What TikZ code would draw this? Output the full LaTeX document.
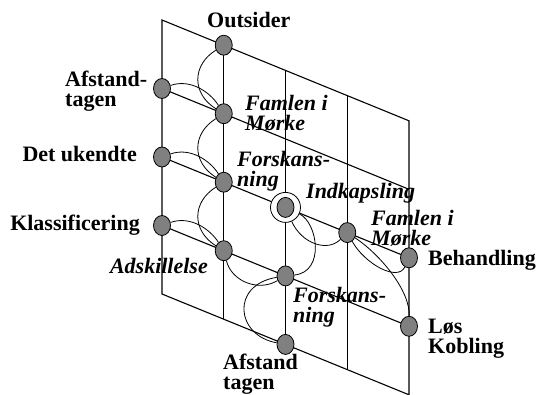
\documentclass[tikz,border=0pt]{standalone}
\usepackage{fontspec}
\setmainfont{Liberation Serif}
\usetikzlibrary{shapes.geometric}
\definecolor{dotgray}{RGB}{128,128,128}

\begin{document}
\begin{tikzpicture}[
  x={(61.75pt,-25.2pt)}, y={(0pt,-68.5pt)},
  gridline/.style={line width=1.1pt},
  link/.style={line width=0.8pt},
  dot/.style={
    ellipse, draw, line width=0.8pt, fill=dotgray,
    minimum width=17pt, minimum height=20pt, inner sep=0pt
  },
  ring/.style={
    circle, draw, line width=0.8pt, fill=white,
    minimum size=30pt, inner sep=0pt
  },
  lbl/.style={font=\fontsize{22}{20}\selectfont\bfseries, inner sep=0pt, align=left},
  ilbl/.style={lbl, font=\fontsize{22}{20}\selectfont\bfseries\itshape}
  ]
  \useasboundingbox (-162pt,20pt) rectangle (378pt,-374pt);
  % the slanted plane
  \draw[gridline] (0,0) -- (4,0) -- (4,4) -- (0,4) -- cycle;
  \foreach \i in {1,2,3} {
    \draw[gridline] (\i,0) -- (\i,4);
    \draw[gridline] (0,\i) -- (4,\i);
  }
  % points
  \node[dot] (outsider) at (1,0) {};
  \node[dot] (afstandA) at (0,1) {};
  \node[dot] (famlenA) at (1,1) {};
  \node[dot] (ukendte) at (0,2) {};
  \node[dot] (forskA) at (1,2) {};
  \node[ring] (indkap) at (2,2) {};
  \node[dot] (indkapDot) at (indkap) {};
  \node[dot] (famlenB) at (3,2) {};
  \node[dot] (behandl) at (4,2) {};
  \node[dot] (klassif) at (0,3) {};
  \node[dot] (adskil) at (1,3) {};
  \node[dot] (forskB) at (2,3) {};
  \node[dot] (loes) at (4,3) {};
  \node[dot] (afstandB) at (2,4) {};
  % paths
  \foreach \a/\b in {outsider/famlenA, famlenA/forskA, forskA/adskil}
    \draw[link] (\a) .. controls +(-32pt,-20pt) and +(-32pt,20pt) .. (\b);
  \foreach \a/\b in {afstandA/famlenA, ukendte/forskA, klassif/adskil}
    \draw[link] (\a) .. controls +(28pt,10pt) and +(-14pt,22pt) .. (\b);
  \draw[link] (adskil) .. controls +(8pt,-31pt) and +(-27pt,-16pt) .. (forskB);
  \draw[link] (forskB) .. controls +(-55pt,-9pt) and +(-50pt,9pt) .. (afstandB);
  \draw[link] (indkap) .. controls +(32pt,-15pt) and +(40pt,4pt) .. (forskB);
  \draw[link] (indkap) .. controls +(16pt,-36pt) and +(-20pt,-20pt) .. (famlenB);
  \draw[link] (famlenB) .. controls +(18pt,-32pt) and +(-11pt,-24pt) .. (behandl);
  \draw[link] (famlenB) .. controls +(33pt,-22pt) and +(1pt,36pt) .. (loes);
  % labels
  \node[lbl, anchor=base west] (tOutsider) at ([shift={(-16.75pt,18.2pt)}]outsider) {Outsider};
  \node[lbl, anchor=north west] (tAfstandA) at ([shift={(-97pt,17.5pt)}]afstandA) {Afstand-\\tagen};
  \node[ilbl, anchor=north west] (tFamlenA) at ([shift={(21.25pt,18.5pt)}]famlenA) {Famlen i\\Mørke};
  \node[lbl, anchor=base east] (tUkendte) at ([shift={(-25pt,-4pt)}]ukendte) {Det ukendte};
  \node[ilbl, anchor=north west] (tForskA) at ([shift={(13.25pt,31.2pt)}]forskA) {Forskans-\\ning};
  \node[ilbl, anchor=base west] (tIndkap) at ([shift={(20.5pt,9.4pt)}]indkap) {Indkapsling};
  \node[ilbl, anchor=north west] (tFamlenB) at ([shift={(23.75pt,22.6pt)}]famlenB) {Famlen i\\Mørke};
  \node[lbl, anchor=base west] (tBehandl) at ([shift={(19pt,-7.2pt)}]behandl) {Behandling};
  \node[lbl, anchor=base east] (tKlassif) at ([shift={(-22pt,-4.5pt)}]klassif) {Klassificering};
  \node[ilbl, anchor=base east] (tAdskil) at ([shift={(-15.75pt,-22.3pt)}]adskil) {Adskillelse};
  \node[ilbl, anchor=north west] (tForskB) at ([shift={(7.5pt,-11.1pt)}]forskB) {Forskans-\\ning};
  \node[lbl, anchor=north west] (tLoes) at ([shift={(19pt,7.3pt)}]loes) {Løs\\Kobling};
  \node[lbl, anchor=north west] (tAfstandB) at ([shift={(-62.5pt,-9.6pt)}]afstandB) {Afstand\\tagen};
\end{tikzpicture}
\end{document}
